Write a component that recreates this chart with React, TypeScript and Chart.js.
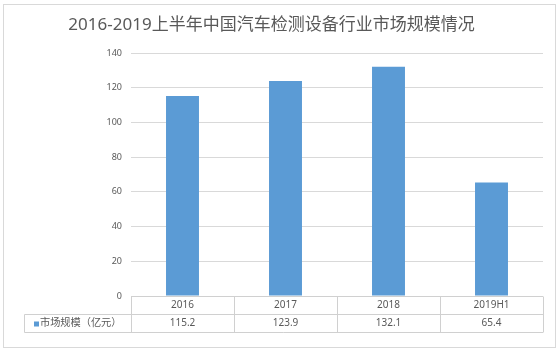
import React, { useEffect, useRef } from "react";
import { Chart, registerables } from "chart.js";

Chart.register(...registerables);

const titleText = "2016-2019上半年中国汽车检测设备行业市场规模情况";
const categories = ["2016", "2017", "2018", "2019H1"];
const seriesName = "市场规模（亿元）";
const seriesValues = [115.2, 123.9, 132.1, 65.4];
const valueLabels = ["115.2", "123.9", "132.1", "65.4"];

const BAR_COLOR = "#5b9bd5";
const TEXT_COLOR = "#595959";
const GRID_COLOR = "#d9d9d9";
const FONT = "'Noto Sans', 'Noto Sans CJK SC', sans-serif";

const framePlugin = {
  id: "frame",
  beforeDraw(chart: any) {
    const { ctx, width, height } = chart;
    ctx.save();
    ctx.fillStyle = "#ffffff";
    ctx.fillRect(0, 0, width, height);
    ctx.strokeStyle = GRID_COLOR;
    ctx.lineWidth = 1;
    ctx.strokeRect(3.5, 4.5, width - 8, height - 9);
    ctx.restore();
  },
};

const tablePlugin = {
  id: "dataTable",
  afterDraw(chart: any) {
    const { ctx, chartArea } = chart;
    const x = chart.scales.x;
    const n = categories.length;
    const left = chartArea.left;
    const right = chartArea.right;
    const cw = (right - left) / n;
    const rowH = 18;
    const y0 = Math.round(chartArea.bottom) + 0.5;
    const y1 = y0 + rowH;
    const y2 = y1 + rowH;
    const tableLeft = 24.5;
    ctx.save();
    ctx.strokeStyle = "#d0d0d0";
    ctx.lineWidth = 1;
    ctx.beginPath();
    ctx.moveTo(left, y0);
    ctx.lineTo(right, y0);
    ctx.moveTo(tableLeft, y1);
    ctx.lineTo(right, y1);
    ctx.moveTo(tableLeft, y2);
    ctx.lineTo(right, y2);
    for (let i = 0; i <= n; i++) {
      const bx = Math.round(left + i * cw) + 0.5;
      ctx.moveTo(bx, y0);
      ctx.lineTo(bx, y2);
    }
    ctx.moveTo(tableLeft, y1);
    ctx.lineTo(tableLeft, y2);
    ctx.stroke();

    ctx.fillStyle = TEXT_COLOR;
    ctx.font = `10px ${FONT}`;
    ctx.textAlign = "center";
    ctx.textBaseline = "middle";
    categories.forEach((c, i) => {
      const cx = x.getPixelForValue(i);
      ctx.fillText(c, cx, y0 + rowH / 2);
      ctx.fillText(valueLabels[i], cx, y1 + rowH / 2);
    });
    ctx.fillStyle = BAR_COLOR;
    ctx.fillRect(34, y1 + 7, 5, 5);
    ctx.fillStyle = TEXT_COLOR;
    ctx.textAlign = "left";
    ctx.font = `10.2px ${FONT}`;
    ctx.fillText(seriesName, 40, y1 + rowH / 2);
    ctx.restore();
  },
};

export default function App() {
  const ref = useRef<HTMLCanvasElement | null>(null);
  useEffect(() => {
    if (!ref.current) return;
    const chart = new Chart(ref.current, {
      type: "bar",
      data: {
        labels: categories,
        datasets: [
          {
            label: seriesName,
            data: seriesValues,
            backgroundColor: BAR_COLOR,
            barPercentage: 0.32,
            categoryPercentage: 1,
          },
        ],
      },
      options: {
        responsive: false,
        animation: false,
        layout: { padding: { left: 0, right: 17, top: 0, bottom: 56 } },
        plugins: {
          legend: { display: false },
          tooltip: { enabled: false },
          title: {
            display: true,
            text: titleText,
            color: TEXT_COLOR,
            font: { family: FONT, size: 17, weight: "normal" },
            padding: { top: 14.5, bottom: 18.1 },
          },
        },
        scales: {
          x: { display: false },
          y: {
            min: 0,
            max: 140,
            ticks: {
              stepSize: 20,
              color: TEXT_COLOR,
              padding: 9,
              font: { family: FONT, size: 9 },
            },
            grid: { color: GRID_COLOR, drawTicks: false },
            border: { display: false },
            afterFit: (s: any) => {
              s.width = 131;
            },
          },
        },
      },
      plugins: [framePlugin, tablePlugin],
    });
    return () => chart.destroy();
  }, []);
  return (
    <div style={{ position: "fixed", left: 0, top: 0, width: 560, height: 352 }}>
      <canvas ref={ref} width={560} height={352} style={{ display: "block" }} />
    </div>
  );
}
